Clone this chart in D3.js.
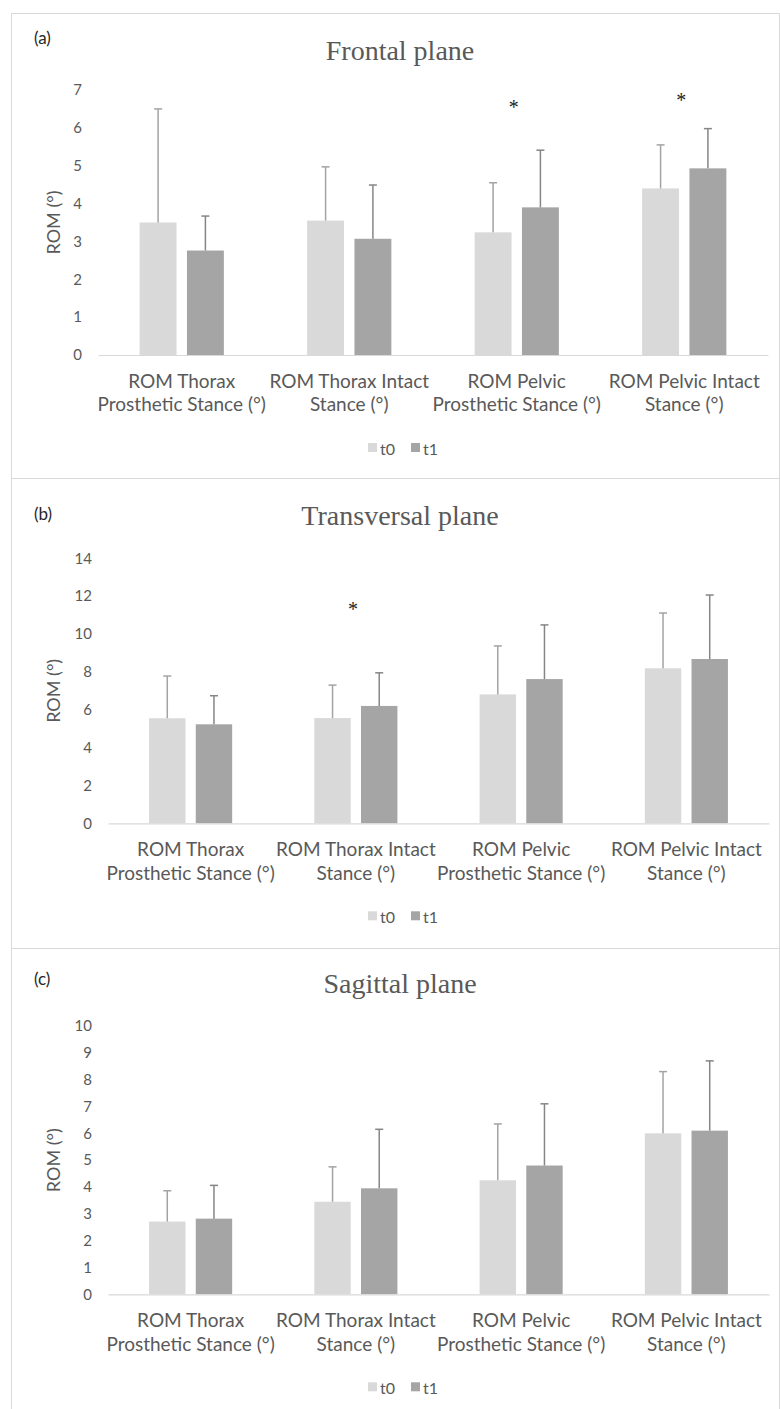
<!DOCTYPE html>
<html>
<head>
<meta charset="utf-8">
<script src="https://cdn.jsdelivr.net/npm/d3@7"></script>
<style>
  html, body { margin: 0; padding: 0; background: #fff; }
  svg { display: block; }
</style>
</head>
<body>
<div id="chart"></div>
<script>
// categories and series
const categories = [
  ["ROM Thorax", "Prosthetic Stance (°)"],
  ["ROM Thorax Intact", "Stance (°)"],
  ["ROM Pelvic", "Prosthetic Stance (°)"],
  ["ROM Pelvic Intact", "Stance (°)"]
];
const series = ["t0", "t1"];
const seriesColors = ["#d9d9d9", "#a5a5a5"];
const errorColors = ["#a3a3a3", "#858585"];

// (a) frontal plane
const frontalT0 = [3.50, 3.55, 3.24, 4.40];
const frontalT0Sd = [3.00, 1.42, 1.31, 1.15];
const frontalT1 = [2.76, 3.07, 3.90, 4.93];
const frontalT1Sd = [0.91, 1.42, 1.51, 1.05];
const frontalStars = [[2, 6.54], [3, 6.73]];

// (b) transversal plane
const transT0 = [5.55, 5.56, 6.81, 8.19];
const transT0Sd = [2.23, 1.74, 2.56, 2.92];
const transT1 = [5.23, 6.20, 7.62, 8.68];
const transT1Sd = [1.51, 1.75, 2.86, 3.38];
const transStars = [[1, 11.3]];

// (c) sagittal plane
const sagT0 = [2.71, 3.45, 4.25, 6.00];
const sagT0Sd = [1.15, 1.30, 2.10, 2.30];
const sagT1 = [2.82, 3.95, 4.80, 6.10];
const sagT1Sd = [1.24, 2.20, 2.30, 2.60];
const sagStars = [];

const W = 780, H = 1409;
const sans = "Lato, 'Open Sans', sans-serif";

const svg = d3.select('#chart').append('svg')
  .attr('width', W)
  .attr('height', H);

const panels = [
  { tag: "(a)", title: "Frontal plane", top: 13, bottom: 478, titleY: 50, tagY: 37,
    yMax: 7, yStep: 1, yTop: 90, yBase: 355, left: 98, right: 768,
    means: [frontalT0, frontalT1], sds: [frontalT0Sd, frontalT1Sd], stars: frontalStars },
  { tag: "(b)", title: "Transversal plane", top: 478, bottom: 948, titleY: 515, tagY: 513,
    yMax: 14, yStep: 2, yTop: 558.3, yBase: 823.3, left: 108, right: 769,
    means: [transT0, transT1], sds: [transT0Sd, transT1Sd], stars: transStars },
  { tag: "(c)", title: "Sagittal plane", top: 948, bottom: 1420, titleY: 983, tagY: 978,
    yMax: 10, yStep: 1, yTop: 1026, yBase: 1294.3, left: 108, right: 769,
    means: [sagT0, sagT1], sds: [sagT0Sd, sagT1Sd], stars: sagStars }
];

panels.forEach(p => drawPanel(p));

function drawPanel(p) {
  const g = svg.append('g');

  // frame
  g.append('rect')
    .attr('x', 11.5).attr('y', p.top + 0.5)
    .attr('width', W - 12).attr('height', p.bottom - p.top)
    .attr('fill', '#fff')
    .attr('stroke', '#d9d9d9');

  g.append('text')
    .attr('x', 34).attr('y', p.tagY)
    .attr('dominant-baseline', 'central')
    .attr('font-family', sans).attr('font-size', 17)
    .attr('fill', '#262626')
    .text(p.tag);

  g.append('text')
    .attr('x', 400).attr('y', p.titleY)
    .attr('text-anchor', 'middle')
    .attr('dominant-baseline', 'central')
    .attr('font-family', "'Liberation Serif', 'Times New Roman', serif")
    .attr('font-size', 28)
    .attr('fill', '#595959')
    .text(p.title);

  const keys = categories.map(c => c.join(' '));
  const x0 = d3.scaleBand().domain(keys).range([p.left, p.right]).paddingInner(0).paddingOuter(0);
  const x1 = d3.scaleBand().domain(series).range([0, x0.bandwidth()]).paddingInner(0.22).paddingOuter(0.88);
  const y = d3.scaleLinear().domain([0, p.yMax]).range([p.yBase, p.yTop]);

  // y axis
  const yAxis = g.append('g')
    .attr('transform', `translate(${p.left},0)`)
    .call(d3.axisLeft(y)
      .tickValues(d3.range(0, p.yMax + 0.001, p.yStep))
      .tickFormat(d3.format('d'))
      .tickSize(0).tickPadding(16));
  yAxis.select('.domain').remove();
  yAxis.selectAll('text')
    .attr('font-family', sans).attr('font-size', 15).attr('fill', '#595959');

  g.append('text')
    .attr('transform', `translate(53,${(p.yTop + p.yBase) / 2}) rotate(-90)`)
    .attr('text-anchor', 'middle')
    .attr('dominant-baseline', 'central')
    .attr('font-family', sans).attr('font-size', 18)
    .attr('fill', '#595959')
    .text('ROM (°)');

  // bars
  series.forEach((s, si) => {
    g.selectAll('.bar-' + s)
      .data(p.means[si])
      .enter()
      .append('rect')
      .attr('x', (d, i) => x0(keys[i]) + x1(s))
      .attr('y', d => y(d))
      .attr('width', x1.bandwidth())
      .attr('height', d => p.yBase - y(d))
      .attr('fill', seriesColors[si]);

    // upper error bars
    const eg = g.selectAll('.err-' + s)
      .data(p.means[si].map((m, i) => ({ m, sd: p.sds[si][i], i })))
      .enter()
      .append('g')
      .attr('stroke', errorColors[si])
      .attr('stroke-width', 1.5);
    eg.append('line')
      .attr('x1', d => x0(keys[d.i]) + x1(s) + x1.bandwidth() / 2)
      .attr('x2', d => x0(keys[d.i]) + x1(s) + x1.bandwidth() / 2)
      .attr('y1', d => y(d.m))
      .attr('y2', d => y(d.m + d.sd));
    eg.append('line')
      .attr('x1', d => x0(keys[d.i]) + x1(s) + x1.bandwidth() / 2 - 4)
      .attr('x2', d => x0(keys[d.i]) + x1(s) + x1.bandwidth() / 2 + 4)
      .attr('y1', d => y(d.m + d.sd))
      .attr('y2', d => y(d.m + d.sd));
  });

  // x axis
  const xAxis = g.append('g')
    .attr('transform', `translate(0,${p.yBase})`)
    .call(d3.axisBottom(x0).tickSize(0).tickSizeOuter(0).tickFormat(''));
  xAxis.select('.domain').attr('stroke', '#d9d9d9').attr('stroke-width', 1.2);
  xAxis.selectAll('.tick text').remove();
  xAxis.selectAll('.tick').each(function(d, i) {
    const t = d3.select(this).append('text')
      .attr('text-anchor', 'middle')
      .attr('font-family', sans).attr('font-size', 19)
      .attr('fill', '#595959');
    categories[i].forEach((line, li) => {
      t.append('tspan').attr('x', 0).attr('y', 33 + li * 23.3).text(line);
    });
  });

  // significance stars
  g.selectAll('.star')
    .data(p.stars)
    .enter()
    .append('text')
    .attr('x', d => x0(keys[d[0]]) + x0.bandwidth() / 2 - 3)
    .attr('y', d => y(d[1]))
    .attr('text-anchor', 'middle')
    .attr('dominant-baseline', 'central')
    .attr('font-family', "'Liberation Serif', serif")
    .attr('font-size', 20)
    .attr('fill', '#222')
    .text('*');

  // legend
  const lg = g.append('g').attr('transform', `translate(0,${p.yBase + 93})`);
  const lx = [368, 411];
  series.forEach((s, si) => {
    lg.append('rect')
      .attr('x', lx[si]).attr('y', -5)
      .attr('width', 9).attr('height', 9)
      .attr('fill', seriesColors[si]);
    lg.append('text')
      .attr('x', lx[si] + 12).attr('y', 0)
      .attr('dominant-baseline', 'central')
      .attr('font-family', sans).attr('font-size', 16)
      .attr('fill', '#595959')
      .text(s);
  });
}
</script>
</body>
</html>
